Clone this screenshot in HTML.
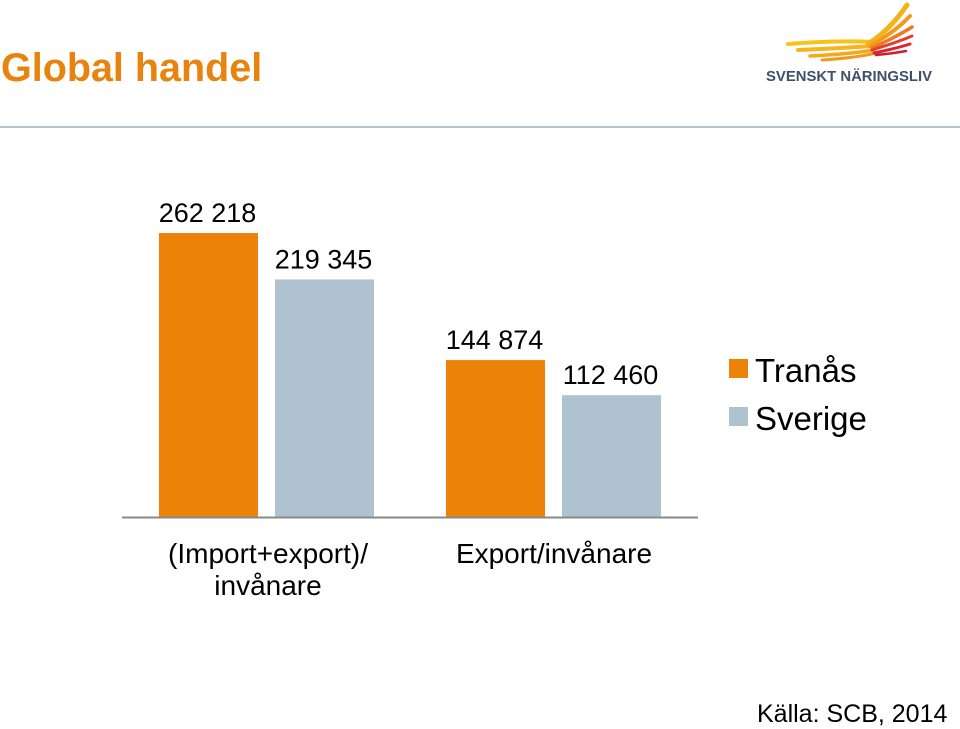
<!DOCTYPE html>
<html><head><meta charset="utf-8"><style>
html,body{margin:0;padding:0;background:#fff;}
body{width:960px;height:728px;position:relative;overflow:hidden;font-family:"Liberation Sans",sans-serif;}
</style></head><body>
<div style="position:absolute;left:1px;top:46px;font-size:39.5px;font-weight:bold;color:#E8830E;">Global handel</div>
<div style="position:absolute;left:0;top:126px;width:960px;height:2px;background:#B4C4CE;"></div>
<svg style="position:absolute;left:760px;top:0" width="200" height="90">
<g fill="none" stroke-linecap="round">
<path d="M28,44 Q80,40 112,42" stroke="#F8C21C" stroke-width="4"/>
<path d="M38,50 Q85,48 112,46" stroke="#F7B51B" stroke-width="4"/>
<path d="M50,56 Q90,54 114,50" stroke="#F5A81D" stroke-width="3.5"/>
<path d="M62,60 Q95,58 116,53" stroke="#F39A1E" stroke-width="3"/>
<path d="M108,44 Q130,30 147,5" stroke="#F6B219" stroke-width="5"/>
<path d="M110,46 Q135,32 150,16" stroke="#F39A1E" stroke-width="4"/>
<path d="M112,48 Q138,36 152,27" stroke="#EC7A22" stroke-width="3.5"/>
<path d="M112,50 Q138,42 152,36" stroke="#E2402A" stroke-width="3"/>
<path d="M114,53 Q138,48 150,44" stroke="#D9262E" stroke-width="3"/>
<path d="M116,55 Q136,53 146,51" stroke="#C8202E" stroke-width="2.5"/>
</g>
<text x="6" y="81" font-family="Liberation Sans, sans-serif" font-weight="bold" font-size="15" fill="#3F4E6B" textLength="166" lengthAdjust="spacingAndGlyphs">SVENSKT NÄRINGSLIV</text>
</svg>
<svg id="chart" style="position:absolute;left:0;top:0" width="960" height="728"></svg>
<div style="position:absolute;left:757px;top:700px;font-size:25px;color:#000;">Källa: SCB, 2014</div>
<script>
const categories=["(Import+export)/\ninvånare","Export/invånare"];
const seriesNames=["Tranås","Sverige"];
const tranas=[262218,144874];
const sverige=[219345,112460];
const valueLabels=[["262 218","144 874"],["219 345","112 460"]];
const colors=["#EC8207","#AFC2CF"];
const svg=document.getElementById('chart');
const NS="http://www.w3.org/2000/svg";
const baseY=517, scale=284/262218;
function y(v){return baseY-v*scale;}
const groupX=[159,446], barW=99, offs=[0,116];
function mk(t,a){const e=document.createElementNS(NS,t);for(const k in a)e.setAttribute(k,a[k]);svg.appendChild(e);return e;}
const series=[tranas,sverige];
series.forEach((s,si)=>{s.forEach((v,ci)=>{
 const x=groupX[ci]+offs[si];
 const r=mk('rect',{x:x,y:y(v),width:barW,height:baseY-y(v),fill:colors[si]});
 
 
 const t=mk('text',{x:x+barW/2-1,y:y(v)-11,'text-anchor':'middle','font-size':27,'font-family':'Liberation Sans, sans-serif',fill:'#000'});
 t.textContent=valueLabels[si][ci];
 
 
});});
const ax=mk('line',{x1:122,x2:698,y1:baseY+0.5,y2:baseY+0.5,stroke:'#888',"stroke-width":2});


categories.forEach((c,ci)=>{
 const cx=ci===0?268:554;
 c.split('\n').forEach((ln,li)=>{
  const t=mk('text',{x:cx,y:563+li*32,'text-anchor':'middle','font-size':28,'font-family':'Liberation Sans, sans-serif',fill:'#000'});
  t.textContent=ln;
  
  
 });
});
seriesNames.forEach((n,i)=>{
 const ly=382+i*48;
 const r=mk('rect',{x:729,y:ly-23,width:19,height:19,fill:colors[i]});
 
 
 const t=mk('text',{x:755,y:ly,'font-size':33,'font-family':'Liberation Sans, sans-serif',fill:'#000'});
 t.textContent=n;
 
 
});
</script>
</body></html>
